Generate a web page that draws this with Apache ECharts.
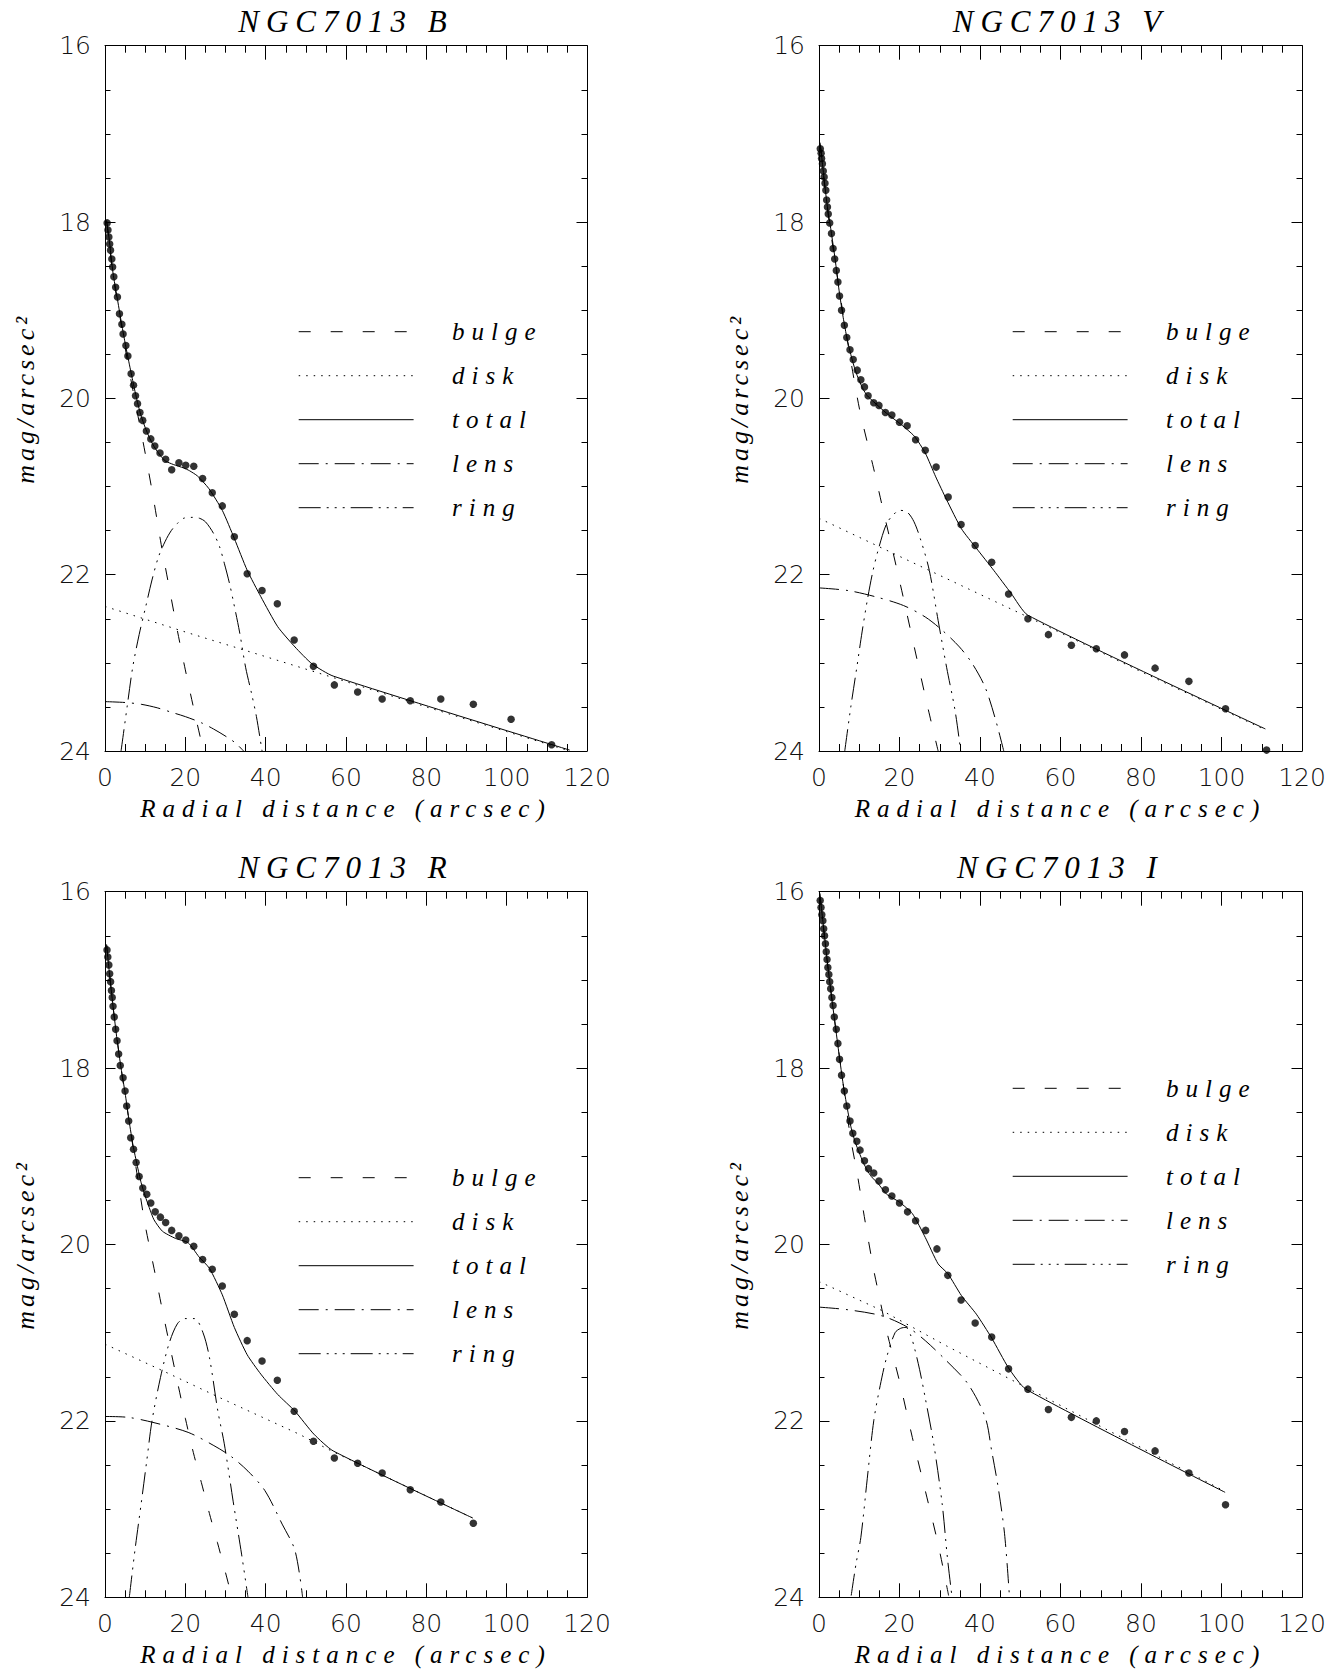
<!DOCTYPE html>
<html><head><meta charset="utf-8">
<script src="https://cdn.jsdelivr.net/npm/echarts@6/dist/echarts.min.js"></script>
<style>
html,body{margin:0;padding:0;background:#fff;}
#chart{width:1338px;height:1673px;}
#chart text[style*="italic"]{letter-spacing:7px;}
#chart text[style*="26px"]{letter-spacing:4px;}
</style></head><body><div id="chart"></div>
<script>
// ---------- tick labels ----------
const xTicks = [0, 20, 40, 60, 80, 100, 120];
const yTicks = [16, 18, 20, 22, 24];
const panelTitles = ['NGC7013 B', 'NGC7013 V', 'NGC7013 R', 'NGC7013 I'];
const legendNames = ['bulge', 'disk', 'total', 'lens', 'ring'];

// ---------- B band ----------
const B_obsR = [0.53,0.74,0.96,1.17,1.38,1.7,1.9,2.2,2.65,3.1,3.6,4.2,4.5,5.2,5.7,6.5,7.1,7.6,8.1,8.7,9.4,10.3,11.4,12.4,13.7,15.1,16.6,18.4,20.1,22.1,24.3,26.7,29.2,32.2,35.4,39.1,42.9,47.1,51.9,57.1,62.9,69.0,76.0,83.6,91.7,101.1,111.2];
const B_obsMu = [18.01,18.09,18.17,18.25,18.32,18.42,18.51,18.62,18.74,18.85,19.04,19.16,19.27,19.40,19.52,19.72,19.85,19.97,20.06,20.16,20.25,20.37,20.46,20.54,20.62,20.69,20.81,20.73,20.76,20.77,20.91,21.07,21.22,21.57,21.99,22.18,22.33,22.74,23.04,23.25,23.33,23.41,23.43,23.41,23.47,23.64,23.93];
const B_totR = [0.4,1,2,3,4,5,6,7,8,9,10,11,12,13,14,15,17,19.6,21,23,25.8,29.2,32.2,35.4,38.8,43,47.3,51.5,56.8,115.7];
const B_totMu = [17.98,18.18,18.58,18.85,19.12,19.37,19.6,19.82,20.03,20.2,20.33,20.44,20.53,20.6,20.66,20.71,20.75,20.79,20.82,20.88,21.02,21.27,21.59,21.95,22.25,22.59,22.82,23.01,23.15,23.99];
const B_bulgeR = [0.4,2,4,6,8,10,12,14,16,18,20,22,24,24.5];
const B_bulgeMu = [17.99,18.6,19.15,19.68,20.15,20.62,21.12,21.66,22.15,22.63,23.08,23.5,23.9,24.0];
const B_diskR = [0,20,40,57,80,100,115.7];
const B_diskMu = [22.36,22.65,22.93,23.17,23.5,23.78,24.0];
const B_lensR = [0,5,9,13,16.5,20,24,27,30.3,32.5,34.5];
const B_lensMu = [23.44,23.45,23.47,23.51,23.56,23.61,23.68,23.75,23.84,23.91,24.0];
const B_ringR = [4,5.5,6.9,8.5,10.1,11.7,13.3,15,16.5,18,19.6,21.8,23.5,25,27,28.5,29.7,31,31.9,33.5,35,36.5,37.7,39.1];
const B_ringMu = [24.0,23.5,23.05,22.68,22.37,22.06,21.8,21.62,21.5,21.42,21.36,21.35,21.36,21.4,21.53,21.68,21.87,22.1,22.29,22.65,23.05,23.35,23.61,24.0];

// ---------- V band ----------
const V_obsR = [0.32,0.53,0.64,0.85,1.06,1.28,1.49,1.7,1.9,2.1,2.3,2.66,3.1,3.5,3.9,4.3,4.7,5.1,5.6,6.3,6.9,7.7,8.5,9.5,10.4,11.3,12.2,13.6,14.9,16.5,18.1,20.0,21.9,24.0,26.4,29.1,32.1,35.3,38.8,42.9,47.1,51.9,57.0,62.7,68.9,75.9,83.5,91.9,101.0,111.2];
const V_obsMu = [17.17,17.22,17.28,17.34,17.42,17.49,17.56,17.64,17.75,17.83,17.91,18.01,18.13,18.30,18.42,18.55,18.68,18.84,19.0,19.17,19.31,19.45,19.56,19.68,19.79,19.87,19.97,20.05,20.08,20.16,20.19,20.27,20.31,20.47,20.59,20.78,21.12,21.43,21.67,21.86,22.22,22.5,22.68,22.80,22.84,22.91,23.06,23.21,23.52,23.99];
const V_totR = [0.3,1,2,3,4,5,6,7,8,9,10,11,12,13.6,16.8,20.5,23.7,26.4,29,31.7,35.4,39.1,43.4,47.7,51.9,110.9];
const V_totMu = [17.1,17.4,17.8,18.1,18.42,18.78,19.08,19.33,19.52,19.68,19.8,19.9,19.97,20.04,20.17,20.3,20.43,20.62,20.89,21.15,21.48,21.7,21.95,22.21,22.46,23.75];
const V_bulgeR = [0.3,2,4,6,8,10.1,12,13.6,16,17.9,20.9,24.3,27,29.6];
const V_bulgeMu = [17.12,17.82,18.45,19.05,19.6,20.13,20.5,20.8,21.28,21.65,22.25,22.95,23.5,24.0];
const V_diskR = [0,25,51.9,80,110.9];
const V_diskMu = [21.36,21.9,22.48,23.1,23.76];
const V_lensR = [0,7.2,14,21,26.4,30.6,34.9,38.1,41.3,43.9,45.9];
const V_lensMu = [22.15,22.18,22.25,22.35,22.48,22.63,22.82,23.01,23.28,23.65,24.0];
const V_ringR = [6.4,7.9,9.4,10.7,12,13.3,14.7,16.8,18.5,20,21.9,23.6,25.3,27.4,29.6,31.7,33.8,35.2];
const V_ringMu = [24.0,23.5,23.05,22.65,22.29,21.98,21.72,21.42,21.32,21.27,21.29,21.4,21.61,21.95,22.52,23.05,23.54,24.0];

// ---------- R band ----------
const R_obsR = [0.5,0.7,0.96,1.17,1.4,1.6,1.8,2.0,2.3,2.65,3.0,3.4,3.8,4.5,5.0,5.4,5.9,6.4,7.1,7.75,8.5,9.4,10.4,11.4,12.5,13.8,15.1,16.6,18.4,20.1,22.1,24.3,26.7,29.2,32.2,35.4,39.1,42.9,47.1,51.9,57.1,62.9,69.0,76.0,83.6,91.7];
const R_obsMu = [16.66,16.74,16.83,16.93,17.02,17.12,17.2,17.30,17.42,17.56,17.69,17.84,17.97,18.11,18.26,18.43,18.6,18.79,18.92,19.07,19.23,19.36,19.43,19.53,19.63,19.69,19.75,19.84,19.9,19.95,20.02,20.17,20.28,20.47,20.79,21.09,21.32,21.54,21.89,22.23,22.42,22.48,22.59,22.78,22.92,23.16];
const R_totR = [0.4,1,2,3,4,5,6,7,8,9,10,11,12.2,14.3,17.5,20.7,23.4,26,29.2,32.2,35.4,38.8,43,47.3,52,56.8,91.5];
const R_totMu = [16.6,16.88,17.3,17.68,18.0,18.28,18.6,18.88,19.1,19.3,19.45,19.58,19.72,19.85,19.93,19.98,20.14,20.27,20.57,20.94,21.25,21.47,21.7,21.89,22.15,22.34,23.1];
const R_bulgeR = [0.4,2,4,6,8.5,10,12.2,14,16,18,20,22,24,26,28,30,31.6];
const R_bulgeMu = [16.6,17.3,18.0,18.6,19.36,19.78,20.27,20.68,21.12,21.55,21.97,22.36,22.7,23.05,23.38,23.72,24.0];
const R_diskR = [0,14.3,29.2,48.3,56.8,91.5];
const R_diskMu = [21.13,21.43,21.75,22.15,22.35,23.1];
const R_lensR = [0,5.8,12.2,20.7,27.1,31.3,35.6,39.8,44.1,47.3,49.2];
const R_lensMu = [21.95,21.96,22.02,22.13,22.28,22.4,22.57,22.79,23.17,23.47,24.0];
const R_ringR = [6.05,7.5,9,10.4,11.7,13.8,15.9,18,19.9,22.3,24.4,26,28.1,29.7,31.9,34,35.6];
const R_ringMu = [24.0,23.45,22.94,22.45,22.0,21.51,21.13,20.9,20.84,20.84,21.0,21.28,21.89,22.26,22.91,23.51,24.0];

// ---------- I band ----------
const I_obsR = [0.3,0.5,0.7,0.96,1.17,1.38,1.6,1.8,2.0,2.2,2.45,2.66,2.9,3.2,3.5,3.8,4.3,4.7,5.1,5.6,6.3,6.9,7.7,8.4,9.4,10.2,11.3,12.3,13.6,14.9,16.5,18.1,20.0,22.0,24.0,26.5,29.3,32.0,35.3,38.8,42.9,47.1,51.9,57.0,62.7,68.9,75.9,83.5,91.9,101.0];
const I_obsMu = [16.1,16.18,16.26,16.33,16.42,16.5,16.59,16.68,16.77,16.86,16.94,17.02,17.1,17.2,17.29,17.42,17.56,17.72,17.9,18.08,18.26,18.43,18.6,18.74,18.83,18.93,19.05,19.14,19.19,19.28,19.38,19.45,19.53,19.63,19.73,19.84,20.05,20.35,20.63,20.89,21.05,21.41,21.64,21.87,21.96,22.0,22.12,22.34,22.59,22.95];
const I_totR = [0.2,1,2,3,4,5,6,7,8,9,10,11,12,13,14.7,16.8,20,23.2,26.4,29.6,32,35.4,39.1,42.9,47.1,51.4,100.9];
const I_totMu = [16.02,16.35,16.77,17.15,17.5,17.85,18.18,18.45,18.68,18.84,18.96,19.07,19.16,19.23,19.31,19.43,19.52,19.65,19.92,20.22,20.33,20.58,20.79,21.06,21.4,21.64,22.81];
const I_bulgeR = [0.2,2,4,6,7.8,9.5,11.5,13.6,14.7,16.8,20,23.2,26.4,29.6,32.2];
const I_bulgeMu = [16.02,16.77,17.5,18.18,18.78,19.2,19.75,20.29,20.53,20.98,21.55,22.19,22.79,23.4,23.98];
const I_diskR = [0,15.7,31.7,51.4,100.9];
const I_diskMu = [20.42,20.75,21.15,21.62,22.8];
const I_lensR = [0,7.2,15.7,22.1,26.4,31.7,37,41.3,42.9,44.5,46.1,47.3];
const I_lensMu = [20.71,20.74,20.81,20.94,21.09,21.32,21.58,21.96,22.34,22.75,23.28,23.98];
const I_ringR = [8,9.2,10.4,12,13.6,15.2,16.8,18.9,20.3,21.6,22.7,23.7,25,26.4,28.5,30.6,31.9,33];
const I_ringMu = [23.98,23.62,23.32,22.65,22.0,21.6,21.28,21.0,20.95,20.94,21.02,21.17,21.42,21.74,22.26,22.94,23.55,23.98];

// ---------- assemble ----------
function zip(a, b) { const n = Math.min(a.length, b.length); const o = []; for (let i = 0; i < n; i++) o.push([a[i], b[i]]); return o; }

const bands = [
  {obs:[B_obsR,B_obsMu], tot:[B_totR,B_totMu], bulge:[B_bulgeR,B_bulgeMu], disk:[B_diskR,B_diskMu], lens:[B_lensR,B_lensMu], ring:[B_ringR,B_ringMu]},
  {obs:[V_obsR,V_obsMu], tot:[V_totR,V_totMu], bulge:[V_bulgeR,V_bulgeMu], disk:[V_diskR,V_diskMu], lens:[V_lensR,V_lensMu], ring:[V_ringR,V_ringMu]},
  {obs:[R_obsR,R_obsMu], tot:[R_totR,R_totMu], bulge:[R_bulgeR,R_bulgeMu], disk:[R_diskR,R_diskMu], lens:[R_lensR,R_lensMu], ring:[R_ringR,R_ringMu]},
  {obs:[I_obsR,I_obsMu], tot:[I_totR,I_totMu], bulge:[I_bulgeR,I_bulgeMu], disk:[I_diskR,I_diskMu], lens:[I_lensR,I_lensMu], ring:[I_ringR,I_ringMu]}
];

// layout (pixels)
const grids = [
  {left:105, top:45.7, width:482, height:705.3},
  {left:819, top:45.7, width:483, height:705.3},
  {left:105, top:891.7, width:482, height:705.6},
  {left:819, top:891.7, width:483, height:705.6}
];
const legendOffset = [286, 286, 286, 196.6];

const dashes = {
  bulge: [12, 20],
  disk: [1.5, 6],
  total: null,
  lens: [20, 7, 2, 7],
  ring: [22, 6, 2, 6, 2, 6, 2, 6]
};

const SERIF = '"Liberation Serif", "DejaVu Serif", serif';
const SANS = '"DejaVu Sans", sans-serif';
const black = '#000';

const option = {
  animation: false,
  backgroundColor: '#fff',
  grid: [], xAxis: [], yAxis: [], series: [], graphic: []
};

grids.forEach((g, i) => {
  option.grid.push({left: g.left, top: g.top, width: g.width, height: g.height, containLabel: false, outerBoundsMode: 'none', show: false});
  const xBase = {
    gridIndex: i, type: 'value', min: xTicks[0], max: xTicks[xTicks.length - 1], interval: xTicks[1] - xTicks[0],
    axisLine: {show: true, onZero: false, lineStyle: {color: black, width: 1}},
    axisTick: {show: true, inside: true, length: 14, lineStyle: {color: black, width: 1}},
    minorTick: {show: true, splitNumber: 4, length: 7, lineStyle: {color: black, width: 1}},
    splitLine: {show: false}, minorSplitLine: {show: false}
  };
  option.xAxis.push(Object.assign({}, xBase, {
    position: 'bottom',
    axisLabel: {show: true, margin: 14, fontSize: 25, fontFamily: SANS, fontWeight: 200, color: '#111',
      showMinLabel: true, showMaxLabel: true, formatter: v => String(v)}
  }));
  option.xAxis.push(Object.assign({}, xBase, {position: 'top', axisLabel: {show: false}}));
  const yBase = {
    gridIndex: i, type: 'value', min: yTicks[0], max: yTicks[yTicks.length - 1], interval: yTicks[1] - yTicks[0], inverse: true,
    axisLine: {show: true, onZero: false, lineStyle: {color: black, width: 1}},
    axisTick: {show: true, inside: true, length: 10.5, lineStyle: {color: black, width: 1}},
    minorTick: {show: true, splitNumber: 4, length: 5.5, lineStyle: {color: black, width: 1}},
    splitLine: {show: false}, minorSplitLine: {show: false}
  };
  option.yAxis.push(Object.assign({}, yBase, {
    position: 'left',
    axisLabel: {show: true, margin: 14, fontSize: 25, fontFamily: SANS, fontWeight: 200, color: '#111',
      padding: [6, 0, 0, 0],
      showMinLabel: true, showMaxLabel: true, formatter: v => String(v)}
  }));
  option.yAxis.push(Object.assign({}, yBase, {position: 'right', axisLabel: {show: false}}));

  const xi = i * 2, yi = i * 2;
  const b = bands[i];
  const lineSeries = (name, pair, dash, smooth) => ({
    name: name, type: 'line', xAxisIndex: xi, yAxisIndex: yi, data: zip(pair[0], pair[1]),
    showSymbol: false, symbol: 'none', smooth: smooth, clip: true, silent: true,
    lineStyle: {color: black, width: 1, type: dash ? dash : 'solid'}, z: 2
  });
  option.series.push(lineSeries('bulge', b.bulge, dashes.bulge, 0.3));
  option.series.push(lineSeries('disk', b.disk, dashes.disk, false));
  option.series.push(lineSeries('lens', b.lens, dashes.lens, 0.3));
  option.series.push(lineSeries('ring', b.ring, dashes.ring, 0.3));
  option.series.push(lineSeries('total', b.tot, null, 0.2));
  option.series.push({
    name: 'data', type: 'scatter', xAxisIndex: xi, yAxisIndex: yi, data: zip(b.obs[0], b.obs[1]),
    symbol: 'circle', symbolSize: 7.5, itemStyle: {color: black}, silent: true, z: 3
  });

  // title
  const cx = g.left + g.width / 2;
  option.graphic.push({type: 'text', silent: true, style: {
    text: panelTitles[i], x: cx, y: g.top - 23.9, textAlign: 'center', textVerticalAlign: 'middle',
    font: 'italic 31px ' + SERIF, fill: black}});
  // x axis name
  option.graphic.push({type: 'text', silent: true, style: {
    text: 'Radial distance (arcsec)', x: cx, y: g.top + g.height + 57.3, textAlign: 'center', textVerticalAlign: 'middle',
    font: 'italic 25px ' + SERIF, fill: black}});
  // y axis name
  option.graphic.push({type: 'text', silent: true, x: g.left - 79.5, y: g.top + g.height / 2, rotation: Math.PI / 2,
    style: {text: 'mag/arcsec\u00B2', x: 0, y: 0, textAlign: 'center', textVerticalAlign: 'middle',
      font: 'italic 26px ' + SERIF, fill: black}});
  // legend
  legendNames.forEach((nm, k) => {
    const yy = g.top + legendOffset[i] + k * 44;
    const st = {stroke: black, lineWidth: 1};
    if (dashes[nm]) st.lineDash = dashes[nm];
    option.graphic.push({type: 'line', silent: true, shape: {x1: g.left + 193.7, y1: yy, x2: g.left + 308.6, y2: yy}, style: st});
    option.graphic.push({type: 'text', silent: true, style: {
      text: nm, x: g.left + 347, y: yy, textAlign: 'left', textVerticalAlign: 'middle',
      font: 'italic 25px ' + SERIF, fill: black}});
  });
});

const chart = echarts.init(document.getElementById('chart'), null, {renderer: 'svg', width: 1338, height: 1673});
chart.setOption(option);
</script></body></html>
